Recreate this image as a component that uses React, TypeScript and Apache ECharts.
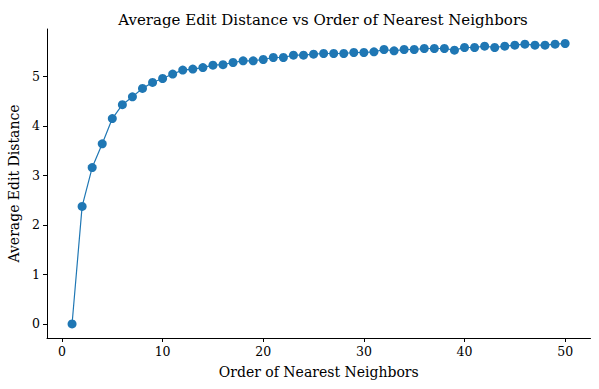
import React, { useEffect, useRef } from "react";
import * as echarts from "echarts";

const orders: number[] = Array.from({ length: 50 }, (_, i) => i + 1);
const avgDistance: number[] = [
  0.0, 2.375, 3.16, 3.64, 4.15, 4.43, 4.59, 4.76, 4.88, 4.96,
  5.05, 5.13, 5.15, 5.18, 5.23, 5.24, 5.283, 5.317, 5.317, 5.344,
  5.384, 5.384, 5.431, 5.431, 5.451, 5.465, 5.465, 5.465, 5.485, 5.485,
  5.499, 5.546, 5.519, 5.546, 5.546, 5.566, 5.566, 5.566, 5.532, 5.586,
  5.586, 5.613, 5.586, 5.613, 5.634, 5.654, 5.634, 5.634, 5.654, 5.667,
];
const xTicks: number[] = [0, 10, 20, 30, 40, 50];
const yTicks: number[] = [0, 1, 2, 3, 4, 5];

const FONT = "DejaVu Serif";

const tickLabel = {
  fontFamily: FONT,
  fontSize: 12.5,
  color: "#000",
  margin: 7,
  formatter: (v: number) => `{s|${v}}`,
  rich: { s: { fontFamily: FONT, fontSize: 12.5, color: "#000" } },
};

export default function App() {
  const ref = useRef<HTMLDivElement>(null);
  useEffect(() => {
    if (!ref.current) return;
    const chart = echarts.init(ref.current, null, { renderer: "svg" });
    chart.setOption({
      animation: false,
      backgroundColor: "#ffffff",
      textStyle: { fontFamily: FONT },
      title: {
        text: "Average Edit Distance vs Order of Nearest Neighbors",
        left: 318,
        top: 7,
        textAlign: "center",
        textStyle: { fontFamily: FONT, fontSize: 15, fontWeight: "normal", color: "#000" },
      },
      grid: { left: 47, right: 8.5, top: 29, bottom: 51, containLabel: false, outerBoundsMode: "none" },
      xAxis: {
        type: "value",
        min: -1.49,
        max: 52.52,
        name: "Order of Nearest Neighbors",
        nameLocation: "middle",
        nameGap: 27,
        nameTextStyle: { fontFamily: FONT, fontSize: 14, color: "#000" },
        splitLine: { show: false },
        axisLine: { show: true, onZero: false, lineStyle: { color: "#000", width: 1 } },
        axisTick: { show: true, length: 4, customValues: xTicks, lineStyle: { color: "#000" } },
        axisLabel: { customValues: xTicks, ...tickLabel },
      },
      yAxis: {
        type: "value",
        min: -0.284,
        max: 5.96,
        name: "Average Edit Distance",
        nameLocation: "middle",
        nameGap: 24,
        nameRotate: 90,
        nameTextStyle: { fontFamily: FONT, fontSize: 14, color: "#000" },
        splitLine: { show: false },
        axisLine: { show: true, onZero: false, lineStyle: { color: "#000", width: 1 } },
        axisTick: { show: true, length: 4, customValues: yTicks, lineStyle: { color: "#000" } },
        axisLabel: { customValues: yTicks, ...tickLabel },
      },
      series: [
        {
          type: "line",
          data: orders.map((k, i) => [k, avgDistance[i]]),
          symbol: "circle",
          symbolSize: 9,
          itemStyle: { color: "#1f77b4" },
          lineStyle: { color: "#1f77b4", width: 1.2 },
        },
      ],
    });
    return () => chart.dispose();
  }, []);
  return <div ref={ref} style={{ width: 599, height: 389, position: "absolute", left: 0, top: 0 }} />;
}
